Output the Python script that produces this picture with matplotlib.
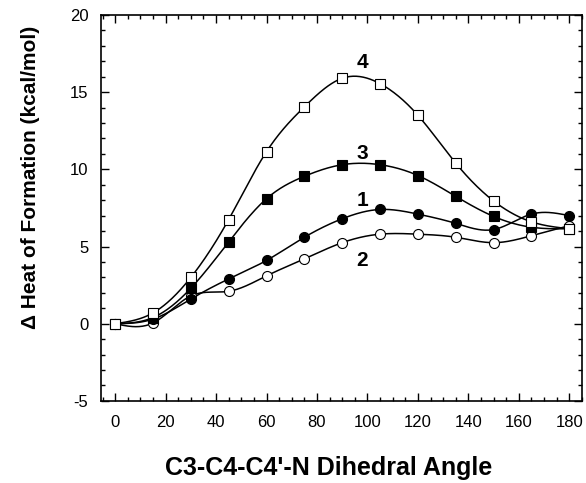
import numpy as np
import matplotlib
matplotlib.use('Agg')
import matplotlib.pyplot as plt
from matplotlib.ticker import MultipleLocator

plt.rcParams['font.family'] = ['Liberation Sans', 'DejaVu Sans']
plt.rcParams['axes.unicode_minus'] = False

# дані
angle = [0, 15, 30, 45, 60, 75, 90, 105, 120, 135, 150, 165, 180]
s1 = [0.0, 0.3, 1.6, 2.9, 4.1, 5.6, 6.8, 7.4, 7.1, 6.5, 6.1, 7.1, 7.0]
s2 = [0.0, 0.05, 1.8, 2.1, 3.1, 4.2, 5.25, 5.8, 5.8, 5.6, 5.25, 5.7, 6.35]
s3 = [0.0, 0.4, 2.3, 5.3, 8.1, 9.55, 10.3, 10.3, 9.6, 8.25, 6.95, 6.25, 6.15]
s4 = [0.0, 0.7, 3.0, 6.75, 11.15, 14.05, 15.9, 15.55, 13.5, 10.4, 7.95, 6.6, 6.15]
labels = ['1', '2', '3', '4']
label_pos = [(98, 8.0), (98, 4.1), (98, 11.05), (98, 16.9)]


def spline(x, y, n=400):
    # натуральний кубічний сплайн
    x = np.asarray(x, float); y = np.asarray(y, float)
    m = len(x)
    h = np.diff(x)
    A = np.zeros((m, m)); b = np.zeros(m)
    A[0, 0] = 1; A[-1, -1] = 1
    for i in range(1, m - 1):
        A[i, i - 1] = h[i - 1]
        A[i, i] = 2 * (h[i - 1] + h[i])
        A[i, i + 1] = h[i]
        b[i] = 6 * ((y[i + 1] - y[i]) / h[i] - (y[i] - y[i - 1]) / h[i - 1])
    M = np.linalg.solve(A, b)
    xs = np.linspace(x[0], x[-1], n)
    k = np.clip(np.searchsorted(x, xs) - 1, 0, m - 2)
    t0 = x[k + 1] - xs; t1 = xs - x[k]
    ys = (M[k] * t0**3 + M[k + 1] * t1**3) / (6 * h[k]) \
        + (y[k] / h[k] - M[k] * h[k] / 6) * t0 \
        + (y[k + 1] / h[k] - M[k + 1] * h[k] / 6) * t1
    return xs, ys


fig = plt.figure(figsize=(5.86, 4.83), dpi=100)
ax = fig.add_axes([0.172, 0.170, 0.821, 0.799])

styles = [
    (s2, 'o', 'white'),
    (s1, 'o', 'black'),
    (s3, 's', 'black'),
    (s4, 's', 'white'),
]
for ys, mk, fc in styles:
    xs, yy = spline(angle, ys)
    ax.plot(xs, yy, color='black', lw=1.1, zorder=2)
    ax.plot(angle, ys, ls='none', marker=mk, ms=7.2,
            mfc=fc, mec='black', mew=0.8, zorder=3)

for lab, (lx, ly) in zip(labels, label_pos):
    ax.text(lx, ly, lab, fontsize=15, fontweight='bold', ha='center', va='center')

ax.set_xlim(-5.7, 185)
ax.set_ylim(-5, 20)
ax.xaxis.set_major_locator(MultipleLocator(20))
ax.xaxis.set_minor_locator(MultipleLocator(5))
ax.yaxis.set_major_locator(MultipleLocator(5))
ax.yaxis.set_minor_locator(MultipleLocator(1))
ax.tick_params(which='both', direction='in', top=True, right=True, labelsize=12)
ax.tick_params(which='major', length=6, width=1)
ax.tick_params(which='minor', length=3, width=1)
ax.tick_params(axis='x', pad=10)
ax.tick_params(axis='y', pad=9)
for sp in ax.spines.values():
    sp.set_linewidth(1.2)

ax.set_xlabel("C3-C4-C4'-N Dihedral Angle", fontsize=18, fontweight='bold', va='center')
ax.xaxis.set_label_coords(0.4726, -0.174)
ax.set_ylabel('\u0394 Heat of Formation (kcal/mol)', fontsize=15, fontweight='bold', va='center')
ax.yaxis.set_label_coords(-0.147, 0.578)

fig.savefig('out.png', dpi=100)
